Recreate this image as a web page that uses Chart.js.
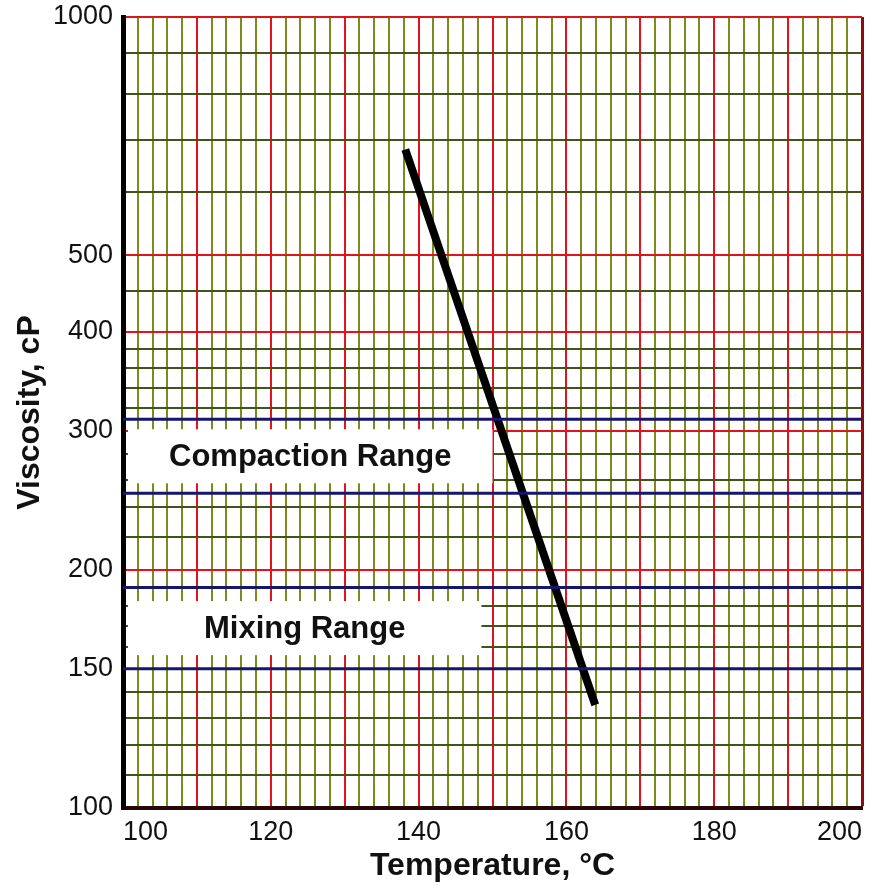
<!DOCTYPE html>
<html>
<head>
<meta charset="utf-8">
<script src="https://cdn.jsdelivr.net/npm/chart.js@4/dist/chart.umd.min.js"></script>
<style>
  body { margin: 0; background: #fff; }
  #wrap { width: 883px; height: 890px; }
</style>
</head>
<body>
<div id="wrap"><canvas id="viscosityChart"></canvas></div>
<script>
// temperature-viscosity line (end points)
const temps = [138.2, 163.9];
const viscosity = [680, 135];

// mixing / compaction viscosity ranges, cP
const rangeNames = ['Compaction Range', 'Mixing Range'];
const rangeLow = [250, 150];
const rangeHigh = [310, 190];

// axis ticks
const xMin = 100, xMax = 200, xStep = 2;
const yGridValues = [100, 110, 120, 130, 140, 150, 160, 170, 180, 190, 200, 220, 240, 260, 280,
  300, 320, 340, 360, 380, 400, 450, 500, 600, 700, 800, 900, 1000];
const yLabelValues = [100, 150, 200, 300, 400, 500, 1000];
const yRedValues = [200, 300, 400, 500, 1000];

const RED = '#e3131c';
const BLUE = '#16166e';
const FONT = '"Liberation Sans", Arial, Helvetica, sans-serif';

// end of the white label box on the temperature axis, per range
const boxEnd = [150, 148.5];
const boxHeight = 54;

// white boxes with range names, drawn over the grid but under the lines
const rangeBoxes = {
  id: 'rangeBoxes',
  beforeDatasetsDraw(chart) {
    const {ctx, chartArea, scales: {x, y}} = chart;
    ctx.save();
    rangeNames.forEach((name, i) => {
      const mid = (y.getPixelForValue(rangeLow[i]) + y.getPixelForValue(rangeHigh[i])) / 2;
      const left = chartArea.left + 5;
      const right = x.getPixelForValue(boxEnd[i]);
      ctx.fillStyle = '#fff';
      ctx.fillRect(left, mid - boxHeight / 2, right - left, boxHeight);
      ctx.fillStyle = '#111';
      ctx.font = 'bold 31px ' + FONT;
      ctx.textAlign = 'center';
      ctx.textBaseline = 'middle';
      ctx.fillText(name, (left + right) / 2, mid + 1);
    });
    ctx.restore();
  }
};

const datasets = [];
rangeNames.forEach((name, i) => {
  [rangeHigh[i], rangeLow[i]].forEach(v => {
    datasets.push({
      label: name,
      data: [{x: xMin, y: v}, {x: xMax, y: v}],
      borderColor: BLUE,
      borderWidth: 3,
      pointRadius: 0
    });
  });
});
datasets.push({
  label: 'Viscosity',
  data: temps.map((t, i) => ({x: t, y: viscosity[i]})),
  borderColor: '#000',
  borderWidth: 8,
  borderCapStyle: 'butt',
  pointRadius: 0
});

new Chart(document.getElementById('viscosityChart'), {
  type: 'line',
  data: {datasets},
  plugins: [rangeBoxes],
  options: {
    responsive: true,
    maintainAspectRatio: false,
    animation: false,
    layout: {padding: 0},
    plugins: {legend: {display: false}, tooltip: {enabled: false}},
    scales: {
      x: {
        type: 'linear',
        min: xMin,
        max: xMax,
        afterFit: s => { s.height = 82; s.paddingLeft = 0; s.paddingRight = 21; },
        border: {color: '#2a0505', width: 4},
        grid: {
          drawTicks: false,
          color: c => c.tick.value === xMax ? '#8c0d10' : (c.tick.value % 10 === 0 ? RED : '#7c8c1a'),
          lineWidth: c => c.tick.value === xMax ? 3 : 2
        },
        ticks: {
          stepSize: xStep,
          autoSkip: false,
          maxRotation: 0,
          align: 'inner',
          padding: 8,
          color: '#111',
          font: {family: FONT, size: 27},
          callback: v => v % 20 === 0 ? v : ''
        },
        title: {
          display: true,
          text: 'Temperature, °C',
          color: '#111',
          font: {family: FONT, size: 32, weight: 'bold'},
          padding: {top: 0, bottom: 5}
        }
      },
      y: {
        type: 'logarithmic',
        min: 100,
        max: 1000,
        afterFit: s => { s.width = 123; s.paddingTop = 17; s.paddingBottom = 0; },
        afterBuildTicks: s => { s.ticks = yGridValues.map(v => ({value: v})); },
        border: {color: '#000', width: 5},
        grid: {
          drawTicks: false,
          color: c => yRedValues.includes(c.tick.value) ? RED : '#43541a',
          lineWidth: 2
        },
        ticks: {
          autoSkip: false,
          padding: 10,
          color: '#111',
          font: {family: FONT, size: 27},
          callback: v => yLabelValues.includes(v) ? String(v) : ''
        },
        title: {
          display: true,
          text: 'Viscosity, cP',
          color: '#111',
          font: {family: FONT, size: 32, weight: 'bold'},
          padding: {top: 11, bottom: 0}
        }
      }
    }
  }
});
</script>
</body>
</html>
